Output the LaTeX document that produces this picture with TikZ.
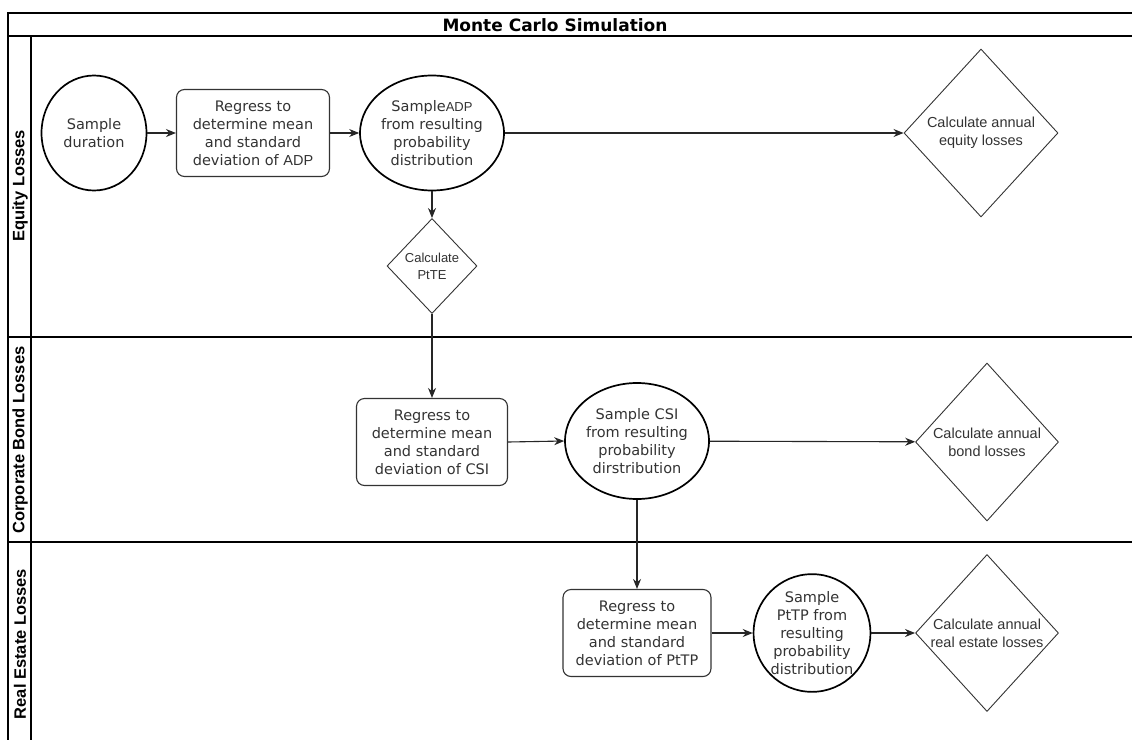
\documentclass[tikz,border=0pt]{standalone}
\usepackage{fontspec}
\setmainfont{DejaVu Sans}
\newfontfamily\arialfont{Liberation Sans}
\usepackage{tikz}
\usetikzlibrary{
    arrows.meta,
    shapes.geometric,
    positioning
}
\definecolor{inkgray}{HTML}{333333}
\tikzstyle{sample} = [
    ellipse,
    draw=black,
    line width=1.7pt,
    minimum width=105pt,
    minimum height=115pt,
    inner sep=0pt,
    align=center,
    text=inkgray,
    font=\fontsize{14.5}{18}\selectfont
]
\tikzstyle{regress} = [
    rectangle,
    rounded corners=8pt,
    draw=inkgray,
    line width=1.1pt,
    minimum width=151pt,
    minimum height=87pt,
    inner sep=0pt,
    align=center,
    text=inkgray,
    font=\fontsize{14.5}{18}\selectfont
]
\tikzstyle{calc} = [
    diamond,
    draw=inkgray,
    line width=0.9pt,
    inner sep=0pt,
    align=center,
    text=inkgray,
    font=\arialfont\fontsize{14.5}{18}\selectfont
]
\tikzstyle{lanelabel} = [
    rotate=90,
    font=\arialfont\bfseries\fontsize{16.5}{18}\selectfont
]
\tikzstyle{arrow} = [
    -{Stealth[length=10pt,width=8pt]},
    line width=1.1pt,
    draw=black!85
]

\begin{document}
\begin{tikzpicture}[x=1pt, y=-1pt]
        \clip (0,0) rectangle (1132,739);
        \fill[white] (0,0) rectangle (1132,739);

        % Pool and lanes
        \draw[line width=1.3pt] (8,13) rectangle (1140,760);
        \draw[line width=1.3pt] (8,36) -- (1140,36);
        \draw[line width=1.3pt] (31,36) -- (31,760);
        \draw[line width=1.3pt] (8,337) -- (1140,337);
        \draw[line width=1.3pt] (8,542) -- (1140,542);
        \node[font=\bfseries\fontsize{17}{18}\selectfont] (title) at (555,25) {Monte Carlo Simulation};
        \node[lanelabel] (equity) at (20,186) {Equity Losses};
        \node[lanelabel] (bond) at (20,440) {Corporate Bond Losses};
        \node[lanelabel] (estate) at (20,644) {Real Estate Losses};

        % Equity lane
        \node[sample] (dur) at (94,133) {Sample\\duration};
        \node[regress, minimum width=153pt] (regadp) at (253,133) {Regress to\\determine mean\\and standard\\deviation of {\arialfont ADP}};
        \node[sample, minimum width=108pt] (sadp) at (432,133) {Sample{\arialfont\fontsize{13}{18}\selectfont ADP}\\from resulting\\probability\\distribution};
        \node[calc, minimum width=154pt, minimum height=168pt] (calceq) at (981,133) {Calculate annual\\equity losses};
        \node[calc, minimum width=90pt, minimum height=95pt, font=\arialfont\fontsize{13}{17}\selectfont] (ptte) at (432,266) {Calculate\\PtTE};

        % Bond lane
        \node[regress] (regcsi) at (432,442) {Regress to\\determine mean\\and standard\\deviation of CSI};
        \node[sample, minimum width=104pt, minimum height=116pt] (scsi) at (637,441) {Sample CSI\\from resulting\\probability\\dirstribution};
        \node[calc, minimum width=143pt, minimum height=158pt] (calcbond) at (987,442) {Calculate annual\\bond losses};

        % Real estate lane
        \node[regress, minimum width=148pt] (regptp) at (637,633) {Regress to\\determine mean\\and standard\\deviation of PtTP};
        \node[sample, minimum height=116pt] (sptp) at (812,633) {Sample\\PtTP from\\resulting\\probability\\distribution};
        \node[calc, minimum width=143pt, minimum height=157pt] (calcre) at (987,633) {Calculate annual\\real estate losses};

        % Arrows
        \draw[arrow] (dur) -- (regadp);
        \draw[arrow] (regadp) -- (sadp);
        \draw[arrow] (sadp) -- (calceq);
        \draw[arrow] (sadp) -- (ptte);
        \draw[arrow] (ptte) -- (regcsi);
        \draw[arrow] (regcsi.east) -- (scsi.west);
        \draw[arrow] (scsi) -- (calcbond);
        \draw[arrow] (scsi) -- (regptp);
        \draw[arrow] (regptp) -- (sptp);
        \draw[arrow] (sptp) -- (calcre);
    \end{tikzpicture}
\end{document}
